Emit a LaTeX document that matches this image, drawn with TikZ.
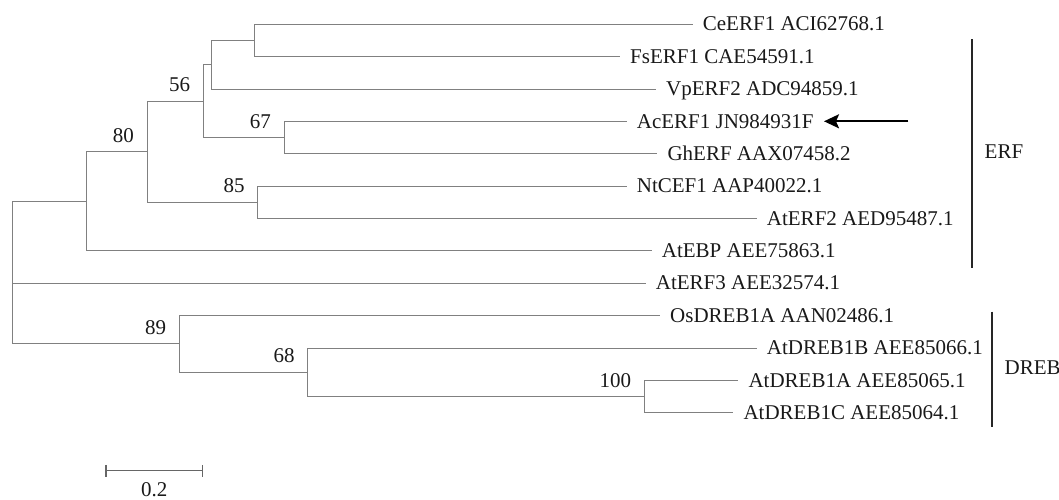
\documentclass[tikz,border=0pt]{standalone}
\usepackage{fontspec}
\setmainfont{Liberation Serif}
\usetikzlibrary{arrows.meta}
\begin{document}
\begin{tikzpicture}[x=1pt,y=-1pt,
  br/.style={draw=black!50,line width=1pt},
  leaf/.style={anchor=base west,inner sep=0pt,xshift=10pt,yshift=-6.8pt,text=black!90,font=\fontsize{21}{24}\selectfont},
  bs/.style={anchor=south east,inner sep=0pt,xshift=-13pt,yshift=9pt,text=black!90,font=\fontsize{21}{24}\selectfont},
  grp/.style={anchor=base west,inner sep=0pt,xshift=12.5pt,yshift=-5pt,text=black!90,font=\fontsize{21}{24}\selectfont},
  grpbar/.style={draw=black!85,line width=1.7pt},
  arr/.style={draw=black,line width=2pt,-{Stealth[length=15pt,width=14pt,inset=3pt]}},
  scalebar/.style={draw=black!60,line width=1.2pt}]
\useasboundingbox (0,0) rectangle (1059,499);
% leaf end points
\coordinate (eCe) at (692.7,24);
\coordinate (eFs) at (620,56.5);
\coordinate (eVp) at (656,89);
\coordinate (eAc) at (626.7,121.3);
\coordinate (eGh) at (657.3,153.7);
\coordinate (eNt) at (626.7,186);
\coordinate (eAt2) at (756.7,218.3);
\coordinate (eEBP) at (651.7,250.7);
\coordinate (eAt3) at (645.7,283);
\coordinate (eOs) at (660,315.5);
\coordinate (eD1B) at (756.7,348);
\coordinate (eD1A) at (738.3,380.5);
\coordinate (eD1C) at (733.3,412.8);
% internal nodes
\coordinate (nC) at (254,40.25);
\coordinate (nB) at (211,64.6);
\coordinate (n67) at (284,137.5);
\coordinate (n56) at (203.3,101);
\coordinate (n85) at (257.7,202.15);
\coordinate (n80) at (147,151.6);
\coordinate (nE) at (86.7,201.2);
\coordinate (n100) at (644.3,396.65);
\coordinate (n68) at (307.7,372.3);
\coordinate (n89) at (179.3,343.9);
\coordinate (root) at (12.7,272.5);
% branches
\draw[br] (nC) |- (eCe);  \draw[br] (nC) |- (eFs);
\draw[br] (nB) |- (nC);   \draw[br] (nB) |- (eVp);
\draw[br] (n67) |- (eAc); \draw[br] (n67) |- (eGh);
\draw[br] (n56) |- (nB);  \draw[br] (n56) |- (n67);
\draw[br] (n85) |- (eNt); \draw[br] (n85) |- (eAt2);
\draw[br] (n80) |- (n56); \draw[br] (n80) |- (n85);
\draw[br] (nE) |- (n80);  \draw[br] (nE) |- (eEBP);
\draw[br] (n100) |- (eD1A); \draw[br] (n100) |- (eD1C);
\draw[br] (n68) |- (eD1B);  \draw[br] (n68) |- (n100);
\draw[br] (n89) |- (eOs);   \draw[br] (n89) |- (n68);
\draw[br] (root) |- (nE); \draw[br] (root) |- (eAt3); \draw[br] (root) |- (n89);
% leaf labels
\node[leaf] (tCe) at (eCe) {CeERF1 ACI62768.1};
\node[leaf] (tFs) at (eFs) {FsERF1 CAE54591.1};
\node[leaf] (tVp) at (eVp) {VpERF2 ADC94859.1};
\node[leaf] (tAc) at (eAc) {AcERF1 JN984931F};
\node[leaf] (tGh) at (eGh) {GhERF AAX07458.2};
\node[leaf] (tNt) at (eNt) {NtCEF1 AAP40022.1};
\node[leaf] (tAt2) at (eAt2) {AtERF2 AED95487.1};
\node[leaf] (tEBP) at (eEBP) {AtEBP AEE75863.1};
\node[leaf] (tAt3) at (eAt3) {AtERF3 AEE32574.1};
\node[leaf] (tOs) at (eOs) {OsDREB1A AAN02486.1};
\node[leaf] (tD1B) at (eD1B) {AtDREB1B AEE85066.1};
\node[leaf] (tD1A) at (eD1A) {AtDREB1A AEE85065.1};
\node[leaf] (tD1C) at (eD1C) {AtDREB1C AEE85064.1};
% bootstrap values
\node[bs] (b80) at (n80) {80};
\node[bs] (b56) at (n56) {56};
\node[bs] (b67) at (n67) {67};
\node[bs] (b85) at (n85) {85};
\node[bs] (b89) at (n89) {89};
\node[bs] (b68) at (n68) {68};
\node[bs] (b100) at (n100) {100};
% arrow
\coordinate (aTail) at (908.3,121.3);
\coordinate (aTip) at (824,121.3);
\draw[arr] (aTail) -- (aTip);
% group bars
\coordinate (erfTop) at (972,39.3);
\coordinate (erfBot) at (972,268.3);
\coordinate (erfMid) at (972,153.8);
\draw[grpbar] (erfTop) -- (erfBot);
\node[grp] (tERF) at (erfMid) {ERF};
\coordinate (drTop) at (992,311.7);
\coordinate (drBot) at (992,426.7);
\coordinate (drMid) at (992,369.2);
\draw[grpbar] (drTop) -- (drBot);
\node[grp] (tDREB) at (drMid) {DREB};
% scale bar
\coordinate (sL) at (106,470.7);
\coordinate (sR) at (202.3,470.7);
\draw[scalebar] (sL) -- (sR);
\draw[scalebar] ([yshift=5.8pt]sL) -- ([yshift=-5.8pt]sL);
\draw[scalebar] ([yshift=5.8pt]sR) -- ([yshift=-5.8pt]sR);
\node[anchor=base,inner sep=0pt,text=black!90,font=\fontsize{21}{24}\selectfont] (tScale) at (154.2,496.2) {0.2};
\end{tikzpicture}
\end{document}
